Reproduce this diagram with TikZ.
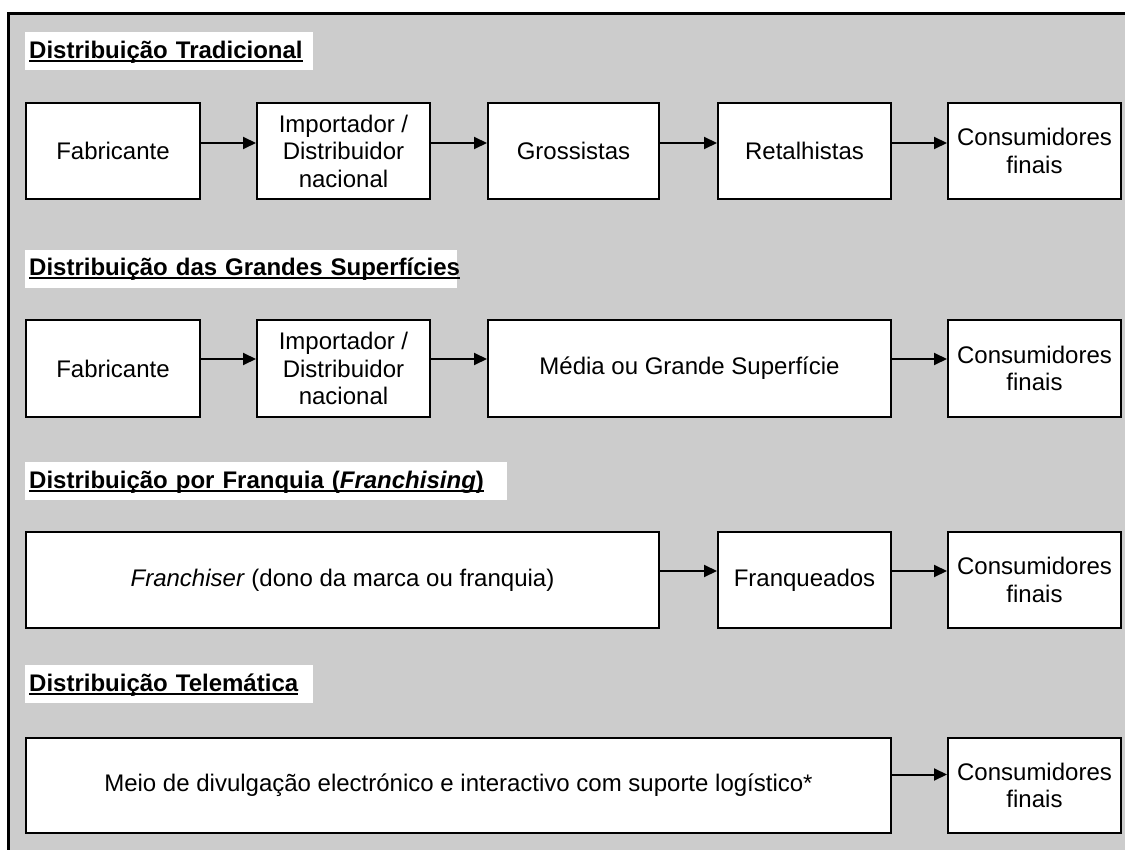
\documentclass[tikz,border=0pt]{standalone}
\usepackage{fontspec}
\setmainfont{Liberation Sans}
\usetikzlibrary{arrows.meta}
\definecolor{bg}{HTML}{CCCCCC}
\newcommand\ulbox[1]{\setbox0\hbox{#1}\rlap{\rule[-3.8pt]{\wd0}{2.2pt}}\box0}
\tikzset{
  stagebox/.style={draw, line width=2pt, fill=white, anchor=north west, minimum height=96pt,
    align=center, inner sep=0pt, font=\fontsize{24}{27.5}\selectfont},
  titlebox/.style={fill=white, anchor=north west, inner xsep=4pt, inner ysep=6pt,
    text height=20pt, text depth=6pt, align=left, font=\bfseries\fontsize{24}{27}\selectfont},
  arr/.style={-{Triangle[length=13pt,width=12pt]}, line width=2pt}
}
\begin{document}
\begin{tikzpicture}[x=1pt,y=-1pt]
\useasboundingbox (0,0) rectangle (1125,850);
\fill[white] (0,0) rectangle (1125,850);
\fill[bg] (8,14) rectangle (1125,850);
\draw[line width=3pt] (8,850) -- (8,14) -- (1125,14);

% Row 1
\node[titlebox, text width=280pt] (t1) at (25,32) {\ulbox{Distribuição Tradicional}};
\node[stagebox, minimum width=174pt] (f1) at (25,102) {Fabricante};
\node[stagebox, minimum width=173pt] (i1) at (256,102) {Importador /\\Distribuidor\\nacional};
\node[stagebox, minimum width=171pt] (g1) at (487,102) {Grossistas};
\node[stagebox, minimum width=173pt] (r1) at (717,102) {Retalhistas};
\node[stagebox, minimum width=173pt] (c1) at (947,102) {Consumidores\\finais};
\draw[arr] ([yshift=8pt]f1.east) -- ([yshift=8pt]i1.west);
\draw[arr] ([yshift=8pt]i1.east) -- ([yshift=8pt]g1.west);
\draw[arr] ([yshift=8pt]g1.east) -- ([yshift=8pt]r1.west);
\draw[arr] ([yshift=8pt]r1.east) -- ([yshift=8pt]c1.west);

% Row 2
\node[titlebox, text width=424pt] (t2) at (25,249.5) {\ulbox{Distribuição das Grandes Superfícies}};
\node[stagebox, minimum width=174pt, minimum height=97pt] (f2) at (25,319) {Fabricante};
\node[stagebox, minimum width=173pt, minimum height=97pt] (i2) at (256,319) {Importador /\\Distribuidor\\nacional};
\node[stagebox, minimum width=403pt, minimum height=97pt] (m2) at (487,319) {Média ou Grande Superfície};
\node[stagebox, minimum width=173pt, minimum height=97pt] (c2) at (947,319) {Consumidores\\finais};
\draw[arr] ([yshift=9.5pt]f2.east) -- ([yshift=9.5pt]i2.west);
\draw[arr] ([yshift=9.5pt]i2.east) -- ([yshift=9.5pt]m2.west);
\draw[arr] ([yshift=9.5pt]m2.east) -- ([yshift=9.5pt]c2.west);

% Row 3
\node[titlebox, text width=474pt] (t3) at (25,462) {\ulbox{Distribuição por Franquia (\textit{Franchising})}};
\node[stagebox, minimum width=633pt] (fr3) at (25,531) {\textit{Franchiser} (dono da marca ou franquia)};
\node[stagebox, minimum width=173pt] (fq3) at (717,531) {Franqueados};
\node[stagebox, minimum width=173pt] (c3) at (947,531) {Consumidores\\finais};
\draw[arr] ([yshift=9pt]fr3.east) -- ([yshift=9pt]fq3.west);
\draw[arr] ([yshift=9pt]fq3.east) -- ([yshift=9pt]c3.west);

% Row 4
\node[titlebox, text width=280pt] (t4) at (25,665) {\ulbox{Distribuição Telemática}};
\node[stagebox, minimum width=865pt, minimum height=95pt] (me4) at (25,737) {Meio de divulgação electrónico e interactivo com suporte logístico*};
\node[stagebox, minimum width=173pt, minimum height=95pt] (c4) at (947,737) {Consumidores\\finais};
\draw[arr] ([yshift=11pt]me4.east) -- ([yshift=11pt]c4.west);
\end{tikzpicture}
\end{document}
